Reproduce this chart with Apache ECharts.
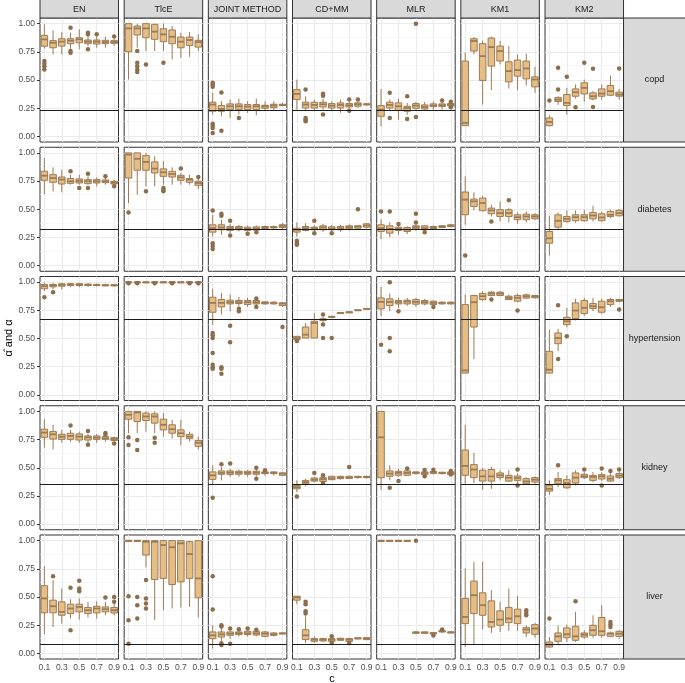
<!DOCTYPE html>
<html>
<head>
<meta charset="utf-8">
<script src="https://cdn.jsdelivr.net/npm/echarts@6/dist/echarts.min.js"></script>
<style>
  html, body { margin: 0; padding: 0; background: #fff; }
  #chart { width: 685px; height: 683px; }
</style>
</head>
<body>
<div id="chart"></div>
<script>
const cValues = ["0.1", "0.2", "0.3", "0.4", "0.5", "0.6", "0.7", "0.8", "0.9"];
const methods = ["EN", "TlcE", "JOINT METHOD", "CD+MM", "MLR", "KM1", "KM2"];
const diseases = ["copd", "diabetes", "hypertension", "kidney", "liver"];
const alphaTrue = [0.235, 0.323, 0.674, 0.349, 0.077];
const yTicks = [0, 0.25, 0.5, 0.75, 1];
const yMinor = [0.125, 0.375, 0.625, 0.875];
const xBreaks = ["0.1", "0.3", "0.5", "0.7", "0.9"];

// boxes: [min, q1, median, q3, max] for each c, one list per method
const copdBoxes = [
  [[0.78,0.80,0.86,0.896,0.994],[0.727,0.786,0.83,0.849,0.941],[0.727,0.801,0.84,0.866,0.926],[0.777,0.822,0.849,0.866,0.92],[0.772,0.831,0.861,0.875,0.95],[0.801,0.822,0.84,0.855,0.89],[0.786,0.819,0.84,0.855,0.89],[0.786,0.822,0.837,0.852,0.884],[0.801,0.825,0.837,0.849,0.865]],
  [[0.504,0.751,0.958,1.0,1.0],[0.786,0.899,0.958,0.979,1.0],[0.757,0.875,0.958,1.0,1.0],[0.757,0.861,0.929,0.994,1.0],[0.757,0.84,0.905,0.955,1.0],[0.682,0.822,0.884,0.944,0.979],[0.697,0.786,0.84,0.881,0.92],[0.706,0.807,0.855,0.881,0.926],[0.757,0.792,0.837,0.852,0.905]],
  [[0.193,0.223,0.282,0.303,0.386],[0.178,0.223,0.243,0.273,0.312],[0.163,0.237,0.267,0.288,0.326],[0.193,0.237,0.267,0.288,0.335],[0.208,0.237,0.264,0.282,0.312],[0.187,0.237,0.267,0.282,0.335],[0.223,0.249,0.267,0.276,0.312],[0.228,0.255,0.273,0.285,0.312],[0.267,0.273,0.279,0.285,0.297]],
  [[0.237,0.326,0.377,0.415,0.504],[0.228,0.252,0.282,0.303,0.356],[0.223,0.252,0.279,0.303,0.326],[0.237,0.261,0.285,0.303,0.335],[0.223,0.252,0.273,0.291,0.312],[0.208,0.252,0.279,0.297,0.326],[0.249,0.261,0.276,0.291,0.306],[0.252,0.267,0.285,0.297,0.31],[0.273,0.279,0.285,0.288,0.297]],
  [[0.089,0.178,0.237,0.273,0.42],[0.223,0.252,0.279,0.303,0.326],[0.148,0.231,0.267,0.297,0.332],[0.193,0.223,0.252,0.267,0.297],[0.237,0.249,0.273,0.291,0.306],[0.228,0.243,0.261,0.279,0.306],[0.237,0.264,0.273,0.288,0.312],[0.237,0.264,0.276,0.288,0.306],[0.264,0.27,0.279,0.291,0.3]],
  [[0.095,0.095,0.119,0.668,0.742],[0.727,0.757,0.846,0.866,0.881],[0.282,0.496,0.712,0.822,0.85],[0.41,0.623,0.792,0.872,0.884],[0.638,0.668,0.757,0.801,0.846],[0.424,0.484,0.579,0.662,0.801],[0.41,0.534,0.588,0.677,0.727],[0.451,0.51,0.602,0.668,0.733],[0.386,0.439,0.504,0.528,0.617]],
  [[0.089,0.095,0.128,0.163,0.187],[0.279,0.309,0.326,0.344,0.356],[0.193,0.273,0.297,0.371,0.43],[0.335,0.356,0.392,0.421,0.46],[0.306,0.377,0.43,0.475,0.504],[0.32,0.332,0.356,0.386,0.401],[0.326,0.356,0.38,0.421,0.46],[0.356,0.365,0.401,0.451,0.54],[0.326,0.356,0.371,0.392,0.421]]
];
// outliers: [c index, value], one list per method
const copdOutliers = [
  [[0,0.668],[0,0.644],[0,0.623],[0,0.593],[3,0.964],[3,0.757],[3,0.742],[5,0.92],[5,0.905],[5,0.772],[6,0.905],[8,0.885]],
  [[1,0.757],[1,0.653],[1,0.623],[1,0.593],[1,0.57],[2,0.638],[4,0.653]],
  [[0,0.475],[0,0.46],[0,0.44],[0,0.113],[0,0.095],[0,0.074],[0,0.03],[1,0.39],[1,0.05],[3,0.163]],
  [[1,0.415],[1,0.163],[1,0.148],[1,0.134],[3,0.377],[3,0.36],[3,0.193],[6,0.326],[6,0.228],[7,0.326]],
  [[1,0.386],[1,0.163],[3,0.356],[3,0.154],[4,1.0],[4,0.172],[7,0.318],[8,0.306],[8,0.258]],
  [],
  [[0,0.318],[1,0.608],[1,0.415],[2,0.528],[3,0.258],[4,0.653],[5,0.599],[5,0.261],[8,0.602]]
];

const diabetesBoxes = [
  [[0.635,0.757,0.798,0.837,0.955],[0.659,0.739,0.777,0.807,0.872],[0.65,0.724,0.763,0.786,0.852],[0.718,0.73,0.748,0.772,0.807],[0.718,0.733,0.751,0.769,0.807],[0.718,0.727,0.748,0.763,0.792],[0.703,0.733,0.748,0.763,0.783],[0.718,0.736,0.748,0.76,0.777],[0.712,0.724,0.736,0.748,0.76]],
  [[0.555,0.777,0.985,1.0,1.0],[0.629,0.846,0.947,1.0,1.0],[0.703,0.846,0.92,0.976,1.0],[0.703,0.822,0.861,0.92,0.97],[0.718,0.792,0.828,0.858,0.926],[0.718,0.786,0.813,0.837,0.872],[0.718,0.757,0.783,0.801,0.822],[0.718,0.739,0.763,0.772,0.807],[0.68,0.712,0.733,0.748,0.77]],
  [[0.258,0.297,0.332,0.362,0.45],[0.273,0.318,0.338,0.362,0.407],[0.288,0.312,0.332,0.347,0.37],[0.303,0.318,0.332,0.347,0.362],[0.3,0.312,0.326,0.341,0.356],[0.3,0.315,0.329,0.344,0.356],[0.318,0.329,0.338,0.347,0.356],[0.32,0.335,0.341,0.347,0.356],[0.32,0.338,0.353,0.362,0.377]],
  [[0.258,0.297,0.318,0.332,0.383],[0.303,0.312,0.332,0.347,0.377],[0.303,0.318,0.332,0.341,0.36],[0.3,0.318,0.338,0.353,0.37],[0.3,0.318,0.329,0.344,0.36],[0.3,0.318,0.332,0.347,0.36],[0.31,0.326,0.341,0.353,0.365],[0.315,0.332,0.347,0.353,0.362],[0.33,0.341,0.356,0.371,0.38]],
  [[0.234,0.303,0.332,0.362,0.41],[0.252,0.288,0.326,0.353,0.383],[0.273,0.312,0.326,0.341,0.355],[0.279,0.303,0.32,0.338,0.35],[0.31,0.326,0.341,0.353,0.37],[0.3,0.318,0.332,0.353,0.36],[0.32,0.329,0.338,0.347,0.356],[0.33,0.338,0.347,0.353,0.358],[0.338,0.347,0.353,0.362,0.368]],
  [[0.362,0.451,0.585,0.653,0.792],[0.49,0.525,0.57,0.59,0.65],[0.481,0.487,0.555,0.599,0.62],[0.436,0.46,0.49,0.51,0.54],[0.392,0.436,0.466,0.496,0.57],[0.383,0.436,0.466,0.496,0.51],[0.371,0.407,0.43,0.451,0.472],[0.383,0.407,0.436,0.457,0.481],[0.407,0.415,0.436,0.451,0.466]],
  [[0.089,0.199,0.243,0.303,0.442],[0.315,0.341,0.398,0.451,0.472],[0.38,0.392,0.415,0.436,0.49],[0.38,0.398,0.43,0.451,0.49],[0.39,0.398,0.43,0.451,0.496],[0.392,0.415,0.445,0.472,0.531],[0.39,0.398,0.427,0.46,0.481],[0.42,0.436,0.451,0.481,0.496],[0.436,0.442,0.466,0.49,0.501]]
];
const diabetesOutliers = [
  [[3,0.837],[4,0.688],[5,0.816],[5,0.688],[7,0.792],[8,0.703]],
  [[0,0.472],[2,0.659],[4,0.688],[4,0.674],[4,0.659],[6,0.861],[8,0.786]],
  [[0,0.49],[0,0.199],[0,0.175],[0,0.148],[1,0.46],[1,0.442],[2,0.398],[2,0.267],[4,0.282],[5,0.295]],
  [[0,0.22],[0,0.199],[0,0.184],[2,0.398],[2,0.288],[4,0.288],[7,0.501]],
  [[0,0.481],[1,0.481],[2,0.37],[4,0.46],[4,0.383],[5,0.295]],
  [[0,0.089],[3,0.392],[5,0.579]],
  []
];

const hypertensionBoxes = [
  [[0.923,0.941,0.964,0.979,0.994],[0.935,0.958,0.97,0.979,0.994],[0.935,0.964,0.976,0.985,0.994],[0.955,0.97,0.979,0.985,0.994],[0.955,0.97,0.979,0.985,0.994],[0.958,0.97,0.976,0.982,0.99],[0.96,0.97,0.976,0.979,0.988],[0.962,0.967,0.973,0.976,0.985],[0.962,0.967,0.973,0.976,0.982]],
  [[0.993,0.996,1.0,1.0,1.0],[0.993,0.996,1.0,1.0,1.0],[0.993,0.996,1.0,1.0,1.0],[0.993,0.996,1.0,1.0,1.0],[0.993,0.996,1.0,1.0,1.0],[0.993,0.996,1.0,1.0,1.0],[0.993,0.996,1.0,1.0,1.0],[0.993,0.996,1.0,1.0,1.0],[0.993,0.996,1.0,1.0,1.0]],
  [[0.623,0.733,0.816,0.866,0.941],[0.712,0.78,0.816,0.846,0.905],[0.742,0.807,0.822,0.84,0.89],[0.786,0.81,0.822,0.837,0.869],[0.78,0.801,0.822,0.837,0.861],[0.792,0.807,0.822,0.837,0.845],[0.8,0.807,0.816,0.825,0.83],[0.8,0.807,0.816,0.822,0.83],[0.78,0.792,0.81,0.816,0.822]],
  [[0.49,0.49,0.504,0.519,0.52],[0.504,0.504,0.534,0.602,0.638],[0.504,0.504,0.638,0.653,0.727],[0.64,0.66,0.668,0.674,0.69],[0.68,0.688,0.691,0.697,0.70],[0.72,0.721,0.727,0.73,0.735],[0.726,0.728,0.733,0.736,0.74],[0.745,0.748,0.751,0.754,0.757],[0.758,0.76,0.763,0.766,0.77]],
  [[0.697,0.763,0.825,0.86,0.958],[0.742,0.792,0.825,0.852,0.899],[0.77,0.807,0.822,0.837,0.861],[0.79,0.807,0.828,0.84,0.86],[0.78,0.804,0.825,0.846,0.861],[0.795,0.807,0.822,0.837,0.85],[0.795,0.801,0.816,0.831,0.84],[0.8,0.807,0.816,0.822,0.83],[0.8,0.807,0.816,0.822,0.828]],
  [[0.193,0.193,0.217,0.801,0.89],[0.318,0.602,0.822,0.881,0.89],[0.831,0.846,0.875,0.9,0.92],[0.875,0.881,0.899,0.911,0.92],[0.875,0.881,0.899,0.911,0.92],[0.84,0.846,0.861,0.875,0.89],[0.82,0.831,0.861,0.881,0.899],[0.85,0.858,0.875,0.887,0.9],[0.855,0.861,0.872,0.881,0.887]],
  [[0.193,0.193,0.223,0.386,0.579],[0.386,0.454,0.504,0.549,0.585],[0.6,0.623,0.653,0.688,0.772],[0.66,0.677,0.748,0.816,0.852],[0.7,0.721,0.772,0.837,0.861],[0.742,0.766,0.786,0.81,0.861],[0.718,0.733,0.777,0.831,0.852],[0.78,0.801,0.831,0.846,0.861],[0.82,0.831,0.837,0.846,0.852]]
];
const hypertensionOutliers = [
  [[0,0.866],[1,0.911]],
  [[0,0.99],[1,0.99],[3,0.99],[5,0.99],[7,0.99],[8,0.99]],
  [[0,0.549],[0,0.528],[0,0.504],[0,0.371],[0,0.267],[0,0.246],[0,0.231],[1,0.246],[1,0.231],[1,0.187],[2,0.614],[2,0.466],[3,0.763],[3,0.742],[5,0.855],[5,0.78],[8,0.602]],
  [[0,0.478],[3,0.712],[3,0.625],[3,0.504],[4,0.504]],
  [[0,0.445],[1,1.0],[1,0.504],[1,0.386],[2,0.742],[6,0.78]],
  [[3,0.846],[6,0.748]],
  [[1,0.795],[1,0.318],[2,0.519],[8,0.757]]
];

const kidneyBoxes = [
  [[0.678,0.77,0.812,0.842,0.931],[0.663,0.755,0.797,0.821,0.881],[0.722,0.752,0.776,0.797,0.836],[0.73,0.752,0.782,0.806,0.836],[0.72,0.746,0.776,0.8,0.82],[0.716,0.746,0.77,0.782,0.8],[0.72,0.752,0.767,0.782,0.8],[0.73,0.752,0.761,0.776,0.785],[0.725,0.742,0.755,0.767,0.776]],
  [[0.806,0.931,0.97,1.0,1.0],[0.806,0.91,0.991,1.0,1.0],[0.82,0.919,0.955,0.985,1.0],[0.806,0.896,0.955,0.979,1.0],[0.776,0.836,0.881,0.931,0.985],[0.76,0.806,0.842,0.881,0.925],[0.701,0.776,0.806,0.836,0.925],[0.733,0.761,0.776,0.797,0.82],[0.663,0.69,0.722,0.742,0.776]],
  [[0.349,0.397,0.433,0.463,0.522],[0.388,0.442,0.454,0.472,0.507],[0.42,0.439,0.457,0.472,0.49],[0.42,0.442,0.457,0.469,0.485],[0.42,0.442,0.454,0.469,0.48],[0.42,0.442,0.457,0.469,0.485],[0.43,0.448,0.454,0.463,0.47],[0.43,0.448,0.454,0.463,0.47],[0.43,0.433,0.448,0.454,0.46]],
  [[0.284,0.313,0.328,0.343,0.388],[0.334,0.358,0.373,0.388,0.403],[0.37,0.382,0.394,0.409,0.42],[0.37,0.379,0.4,0.412,0.42],[0.39,0.394,0.406,0.424,0.43],[0.395,0.403,0.412,0.424,0.43],[0.4,0.406,0.412,0.424,0.43],[0.405,0.412,0.418,0.424,0.43],[0.405,0.412,0.418,0.424,0.428]],
  [[0.304,0.412,0.77,1.0,1.0],[0.39,0.424,0.448,0.472,0.522],[0.42,0.433,0.454,0.469,0.49],[0.43,0.433,0.454,0.472,0.48],[0.44,0.448,0.454,0.463,0.47],[0.435,0.44,0.454,0.463,0.47],[0.44,0.451,0.457,0.466,0.475],[0.44,0.448,0.454,0.46,0.466],[0.435,0.44,0.454,0.463,0.468]],
  [[0.358,0.433,0.516,0.657,0.881],[0.364,0.412,0.484,0.528,0.633],[0.304,0.382,0.424,0.478,0.499],[0.313,0.382,0.424,0.484,0.507],[0.388,0.412,0.433,0.454,0.478],[0.373,0.382,0.412,0.433,0.478],[0.36,0.388,0.409,0.427,0.45],[0.35,0.358,0.379,0.403,0.418],[0.358,0.373,0.394,0.412,0.424]],
  [[0.26,0.293,0.313,0.343,0.388],[0.328,0.358,0.388,0.403,0.463],[0.313,0.322,0.364,0.394,0.433],[0.343,0.364,0.412,0.454,0.478],[0.4,0.412,0.424,0.442,0.46],[0.373,0.388,0.418,0.433,0.463],[0.38,0.4,0.424,0.439,0.46],[0.373,0.382,0.403,0.427,0.463],[0.4,0.412,0.43,0.448,0.463]]
];
const kidneyOutliers = [
  [[3,0.875],[5,0.827],[5,0.705],[7,0.808],[7,0.795],[8,0.716]],
  [[0,0.77],[0,0.701],[1,0.746],[1,0.657],[3,0.767],[3,0.722]],
  [[0,0.233],[1,0.531],[2,0.537],[5,0.501],[5,0.403],[6,0.478]],
  [[0,0.245],[2,0.454],[3,0.433],[3,0.364],[6,0.507]],
  [[1,0.322],[2,0.382],[3,0.493],[5,0.48],[5,0.425],[6,0.482],[8,0.472],[8,0.44]],
  [[6,0.484],[6,0.343]],
  [[1,0.522],[4,0.485],[6,0.493],[6,0.343],[7,0.472],[8,0.484]]
];

const liverBoxes = [
  [[0.169,0.36,0.487,0.6,0.774],[0.234,0.36,0.418,0.472,0.65],[0.264,0.338,0.368,0.457,0.576],[0.309,0.353,0.398,0.436,0.48],[0.3,0.368,0.412,0.436,0.487],[0.318,0.353,0.383,0.407,0.457],[0.309,0.359,0.398,0.418,0.462],[0.338,0.368,0.392,0.412,0.457],[0.338,0.359,0.383,0.407,0.442]],
  [[0.99,0.995,1.0,1.0,1.0],[0.99,0.995,1.0,1.0,1.0],[0.763,0.872,0.99,1.0,1.0],[0.294,0.656,0.99,1.0,1.0],[0.383,0.665,0.961,1.0,1.0],[0.398,0.611,0.941,1.0,1.0],[0.407,0.635,0.976,1.0,1.0],[0.412,0.665,0.881,0.991,1.0],[0.318,0.493,0.665,1.0,1.0]],
  [[0.042,0.13,0.16,0.19,0.249],[0.11,0.145,0.169,0.19,0.225],[0.13,0.16,0.175,0.19,0.205],[0.15,0.166,0.178,0.19,0.2],[0.15,0.166,0.178,0.196,0.205],[0.15,0.163,0.178,0.196,0.2],[0.14,0.151,0.175,0.19,0.2],[0.15,0.16,0.169,0.181,0.19],[0.17,0.172,0.178,0.18,0.183]],
  [[0.436,0.472,0.496,0.507,0.507],[0.092,0.122,0.16,0.21,0.329],[0.092,0.107,0.122,0.131,0.151],[0.1,0.11,0.122,0.131,0.14],[0.1,0.107,0.12,0.131,0.14],[0.11,0.116,0.125,0.134,0.14],[0.1,0.107,0.122,0.131,0.14],[0.125,0.128,0.134,0.137,0.14],[0.12,0.122,0.131,0.139,0.145]],
  [[0.99,0.995,1.0,1.0,1.0],[0.99,0.995,1.0,1.0,1.0],[0.99,0.995,1.0,1.0,1.0],[0.99,0.995,1.0,1.0,1.0],[0.17,0.178,0.185,0.19,0.196],[0.175,0.178,0.184,0.19,0.193],[0.17,0.172,0.178,0.184,0.19],[0.18,0.19,0.196,0.2,0.205],[0.178,0.181,0.187,0.19,0.193]],
  [[0.056,0.264,0.323,0.487,0.754],[0.077,0.353,0.516,0.641,0.813],[0.211,0.338,0.427,0.537,0.813],[0.181,0.234,0.279,0.466,0.561],[0.19,0.249,0.3,0.377,0.457],[0.2,0.273,0.309,0.407,0.576],[0.2,0.264,0.329,0.392,0.507],[0.145,0.181,0.211,0.228,0.249],[0.139,0.169,0.22,0.255,0.27]],
  [[0.05,0.056,0.077,0.101,0.145],[0.071,0.107,0.151,0.181,0.249],[0.101,0.139,0.169,0.226,0.255],[0.101,0.116,0.151,0.24,0.368],[0.13,0.145,0.166,0.181,0.205],[0.139,0.16,0.205,0.249,0.338],[0.139,0.16,0.196,0.318,0.427],[0.145,0.151,0.175,0.181,0.196],[0.13,0.151,0.175,0.196,0.205]]
];
const liverOutliers = [
  [[1,0.685],[3,0.582],[3,0.205],[4,0.644],[4,0.576],[4,0.552],[7,0.496],[8,0.501],[8,0.457]],
  [[0,0.507],[0,0.294],[0,0.086],[1,0.501],[1,0.427],[1,0.309],[2,0.65],[2,0.487],[2,0.442],[2,0.398]],
  [[0,0.685],[0,0.389],[1,0.25],[1,0.238],[1,0.09],[1,0.075],[2,0.22],[2,0.086],[3,0.214],[4,0.22],[5,0.21]],
  [[1,0.457],[1,0.436],[1,0.374],[1,0.353],[4,0.151],[4,0.092],[6,0.092]],
  [[4,1.0],[6,0.158],[7,0.212]],
  [[7,0.383],[7,0.359],[7,0.338]],
  [[0,0.309],[3,0.463],[7,0.279],[7,0.255],[7,0.234]]
];

const boxesByRow = [copdBoxes, diabetesBoxes, hypertensionBoxes, kidneyBoxes, liverBoxes];
const outliersByRow = [copdOutliers, diabetesOutliers, hypertensionOutliers, kidneyOutliers, liverOutliers];

const boxFill = "#e6bd85";
const boxLine = "#9c7b55";
const dotColor = "#8c6d4c";
const font = '"Liberation Sans", Arial, sans-serif';

const panelW = 78.5;
const panelH = 124;
const colLeft = (c) => 40 + c * 84.17;
const rowTop = (r) => 18 + r * 129.25;

function renderBox(params, api) {
  const x = api.value(0);
  const pMin = api.coord([x, api.value(1)]);
  const pQ1 = api.coord([x, api.value(2)]);
  const pMed = api.coord([x, api.value(3)]);
  const pQ3 = api.coord([x, api.value(4)]);
  const pMax = api.coord([x, api.value(5)]);
  const w = api.size([1, 0])[0] * 0.75;
  const stroke = { stroke: boxLine, lineWidth: 1 };
  return {
    type: "group",
    children: [
      { type: "line", shape: { x1: pMin[0], y1: pMin[1], x2: pQ1[0], y2: pQ1[1] }, style: stroke },
      { type: "line", shape: { x1: pQ3[0], y1: pQ3[1], x2: pMax[0], y2: pMax[1] }, style: stroke },
      {
        type: "rect",
        shape: { x: pQ3[0] - w / 2, y: pQ3[1], width: w, height: Math.max(pQ1[1] - pQ3[1], 0.8) },
        style: { fill: boxFill, stroke: boxLine, lineWidth: 1 }
      },
      {
        type: "line",
        shape: { x1: pMed[0] - w / 2, y1: pMed[1], x2: pMed[0] + w / 2, y2: pMed[1] },
        style: { stroke: boxLine, lineWidth: 1.8 }
      }
    ]
  };
}

const grids = [];
const xAxes = [];
const yAxes = [];
const series = [];
const graphics = [];

diseases.forEach((disease, r) => {
  methods.forEach((method, c) => {
    const idx = grids.length;
    const bottomRow = r === diseases.length - 1;
    const firstCol = c === 0;
    grids.push({
      left: colLeft(c),
      top: rowTop(r),
      width: panelW,
      height: panelH,
      show: true,
      backgroundColor: "#fff",
      borderColor: "#333",
      borderWidth: 1,
      containLabel: false,
      outerBoundsMode: "none"
    });
    xAxes.push({
      type: "category",
      gridIndex: idx,
      data: cValues,
      boundaryGap: true,
      axisLine: { show: false },
      axisTick: {
        show: bottomRow,
        alignWithLabel: true,
        interval: 1,
        length: 3,
        lineStyle: { color: "#333", width: 1 }
      },
      axisLabel: {
        show: bottomRow,
        interval: 1,
        margin: 4,
        fontSize: 8.5,
        fontFamily: font,
        color: "#4d4d4d"
      },
      splitLine: { show: false }
    });
    yAxes.push({
      type: "value",
      gridIndex: idx,
      min: -0.05,
      max: 1.05,
      axisLine: { show: false },
      axisTick: {
        show: firstCol,
        customValues: yTicks,
        length: 3,
        lineStyle: { color: "#333", width: 1 }
      },
      axisLabel: {
        show: firstCol,
        customValues: yTicks,
        formatter: (v) => v.toFixed(2),
        margin: 5,
        fontSize: 8.5,
        fontFamily: font,
        color: "#4d4d4d"
      },
      splitLine: { show: false },
      minorSplitLine: { show: false }
    });

    const gridLines = [
      ...yMinor.map((v) => ({ yAxis: v, lineStyle: { color: "#f2f2f2", width: 0.6, type: "solid" } })),
      ...yTicks.map((v) => ({ yAxis: v, lineStyle: { color: "#ebebeb", width: 1, type: "solid" } })),
      ...xBreaks.map((v) => ({ xAxis: v, lineStyle: { color: "#ebebeb", width: 1, type: "solid" } }))
    ];

    series.push({
      type: "custom",
      name: disease + " " + method,
      xAxisIndex: idx,
      yAxisIndex: idx,
      z: 3,
      renderItem: renderBox,
      encode: { x: 0, y: [1, 2, 3, 4, 5] },
      data: boxesByRow[r][c].map((b, i) => [i, ...b]),
      markLine: {
        silent: true,
        z: 1,
        symbol: "none",
        animation: false,
        label: { show: false },
        emphasis: { disabled: true },
        data: gridLines
      }
    });
    series.push({
      type: "scatter",
      xAxisIndex: idx,
      yAxisIndex: idx,
      z: 4,
      symbolSize: 4.5,
      itemStyle: { color: dotColor, opacity: 1 },
      silent: true,
      data: outliersByRow[r][c],
      markLine: {
        silent: true,
        z: 6,
        symbol: "none",
        animation: false,
        label: { show: false },
        emphasis: { disabled: true },
        lineStyle: { color: "#1a1a1a", width: 1, type: "solid" },
        data: [{ yAxis: alphaTrue[r] }]
      }
    });
  });
});

// facet strips, top (methods)
methods.forEach((m, c) => {
  graphics.push({
    type: "rect",
    shape: { x: colLeft(c), y: -1, width: panelW, height: 19 },
    style: { fill: "#d9d9d9", stroke: "#333", lineWidth: 1 },
    z: 10
  });
  graphics.push({
    type: "text",
    x: colLeft(c) + panelW / 2,
    y: 9.5,
    style: { text: m, align: "center", verticalAlign: "middle", font: "9px " + font, fill: "#1a1a1a" },
    z: 11
  });
});
// facet strips, right (diseases)
diseases.forEach((d, r) => {
  graphics.push({
    type: "rect",
    shape: { x: colLeft(6) + panelW, y: rowTop(r), width: 64, height: panelH },
    style: { fill: "#d9d9d9", stroke: "#333", lineWidth: 1 },
    z: 10
  });
  graphics.push({
    type: "text",
    x: colLeft(6) + panelW + 31,
    y: rowTop(r) + panelH / 2,
    style: { text: d, align: "center", verticalAlign: "middle", font: "9px " + font, fill: "#1a1a1a" },
    z: 11
  });
});
// axis titles
graphics.push({
  type: "text",
  x: 9,
  y: 338,
  rotation: Math.PI / 2,
  style: { text: "\u03B1\u0302 and \u03B1", align: "center", verticalAlign: "middle", font: "11px " + font, fill: "#000" },
  z: 11
});
graphics.push({
  type: "text",
  x: 332,
  y: 679,
  style: { text: "c", align: "center", verticalAlign: "middle", font: "11px " + font, fill: "#000" },
  z: 11
});

const chart = echarts.init(document.getElementById("chart"), null, { renderer: "canvas" });
chart.setOption({
  animation: false,
  backgroundColor: "#fff",
  grid: grids,
  xAxis: xAxes,
  yAxis: yAxes,
  series: series,
  graphic: { elements: graphics }
});
</script>
</body>
</html>
